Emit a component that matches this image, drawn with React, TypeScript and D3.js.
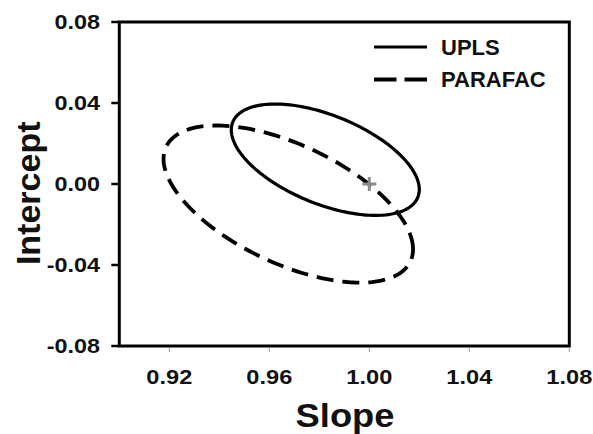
import React from "react";
import * as d3 from "d3";

// ---- data ----
const seriesNames = ["UPLS", "PARAFAC"];
const seriesDash = ["", "17 9"];
// joint confidence ellipses: centre, half-extent along each axis, correlation
const centerSlope = [0.9824, 0.9676];
const centerIntercept = [0.012, -0.0099];
const halfRangeSlope = [0.0376, 0.0499];
const halfRangeIntercept = [0.0275, 0.0388];
const correlation = [-0.534, -0.575];
// ideal point
const idealSlope = [1.0];
const idealIntercept = [0.0];

const xTicks = [0.92, 0.96, 1.0, 1.04, 1.08];
const yTicks = [0.08, 0.04, 0.0, -0.04, -0.08];
const xDomain = [0.9, 1.08];
const yDomain = [-0.08, 0.08];

const W = 593;
const H = 434;
const L = 119.3;
const R = 569.3;
const T = 22;
const B = 346;

const FONT = "'Liberation Sans', Arial, Helvetica, sans-serif";

export default function App() {
  const x = d3.scaleLinear().domain(xDomain).range([L, R]);
  const y = d3.scaleLinear().domain(yDomain).range([B, T]);

  const angles = d3.range(0, 361, 2).map((a) => (a * Math.PI) / 180);
  const line = d3
    .line<[number, number]>()
    .x((d) => x(d[0]))
    .y((d) => y(d[1]))
    .curve(d3.curveLinearClosed);

  const ellipses = seriesNames.map((_, i) => {
    const r = correlation[i];
    const pts: [number, number][] = angles.map((t) => [
      centerSlope[i] + halfRangeSlope[i] * Math.cos(t),
      centerIntercept[i] +
        halfRangeIntercept[i] * (r * Math.cos(t) + Math.sqrt(1 - r * r) * Math.sin(t)),
    ]);
    return line(pts) || "";
  });

  const fmt = (v: number) => (Math.abs(v) < 1e-9 ? "0.00" : v.toFixed(2));

  return (
    <svg
      width={W}
      height={H}
      style={{ position: "absolute", left: 0, top: 0, background: "#fff" }}
      fontFamily={FONT}
      fontWeight="bold"
    >
      <rect x={0} y={0} width={W} height={H} fill="#fff" />
      {/* ellipses */}
      {ellipses.map((p, i) => (
        <path
          key={i}
          d={p}
          fill="none"
          stroke="#000"
          strokeWidth={i === 0 ? 3.2 : 3.8}
          strokeDasharray={seriesDash[i] || undefined}
        />
      ))}
      {/* ideal point cross */}
      {idealSlope.map((s, i) => {
        const cx = x(s);
        const cy = y(idealIntercept[i]);
        return (
          <g key={i} stroke="#8c8c8c" strokeWidth={3}>
            <line x1={cx - 7} x2={cx + 7} y1={cy} y2={cy} />
            <line x1={cx} x2={cx} y1={cy - 7} y2={cy + 7} />
          </g>
        );
      })}
      {/* frame */}
      <rect x={L} y={T} width={R - L} height={B - T} fill="none" stroke="#000" strokeWidth={3} />
      {/* y ticks */}
      {yTicks.map((v) => (
        <g key={"y" + v}>
          <line x1={L - 8} x2={L} y1={y(v)} y2={y(v)} stroke="#000" strokeWidth={2.5} />
          <g transform={`translate(100,${y(v) + 6.8}) scale(1.2,1)`}>
            <text textAnchor="end" fontSize={19.5} fill="#111">
              {fmt(v)}
            </text>
          </g>
        </g>
      ))}
      {/* x ticks */}
      {xTicks.map((v) => (
        <g key={"x" + v}>
          <line x1={x(v)} x2={x(v)} y1={B + 1.5} y2={B + 6} stroke="#999" strokeWidth={1} />
          <g transform={`translate(${x(v)},383.5) scale(1.18,1)`}>
            <text textAnchor="middle" fontSize={20} fill="#111">
              {fmt(v)}
            </text>
          </g>
        </g>
      ))}
      {/* axis titles */}
      <g transform="translate(345,427.3) scale(1.1,1)">
        <text textAnchor="middle" fontSize={33} fill="#111">
          Slope
        </text>
      </g>
      <g transform="translate(40,193.3) rotate(-90)">
        <text textAnchor="middle" fontSize={34} fill="#111">
          Intercept
        </text>
      </g>
      {/* legend */}
      {seriesNames.map((n, i) => {
        const ly = i === 0 ? 47 : 79.5;
        return (
          <g key={n}>
            <line
              x1={374}
              x2={427}
              y1={ly}
              y2={ly}
              stroke="#000"
              strokeWidth={i === 0 ? 3.2 : 3.8}
              strokeDasharray={i === 0 ? undefined : "22.5 8"}
            />
            <text x={441} y={ly + 7.7} fontSize={22} fill="#111">
              {n}
            </text>
          </g>
        );
      })}
    </svg>
  );
}
